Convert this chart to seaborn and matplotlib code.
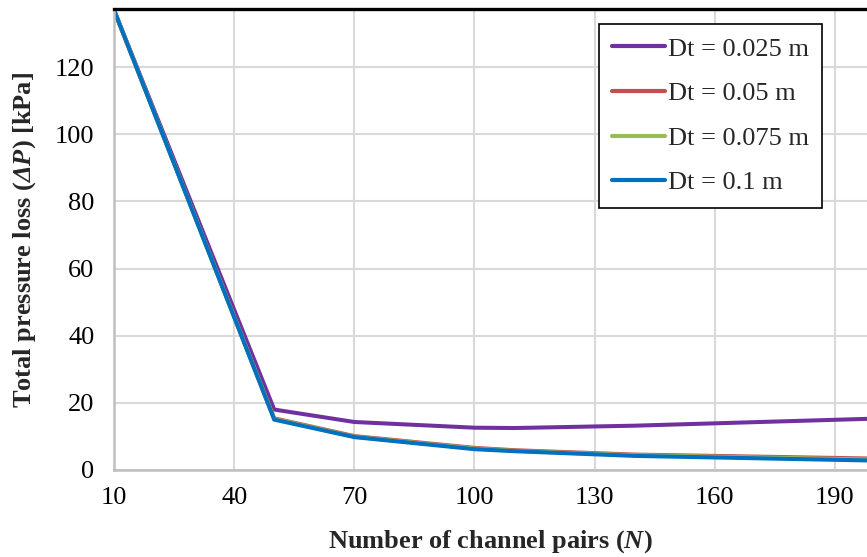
import matplotlib
matplotlib.use("Agg")
import matplotlib.pyplot as plt
import seaborn as sns
import pandas as pd

# Number of channel pairs and total pressure loss (kPa) per tube diameter
n_pairs = [10, 50, 70, 100, 110, 140, 200]
dp_0025 = [137.0, 18.0, 14.3, 12.6, 12.5, 13.2, 15.3]
dp_005 = [137.0, 15.4, 10.1, 6.6, 5.9, 4.6, 3.4]
dp_0075 = [137.0, 15.2, 9.9, 6.4, 5.7, 4.4, 3.1]
dp_01 = [137.0, 15.0, 9.8, 6.2, 5.6, 4.2, 2.8]

series_labels = ["Dt = 0.025 m", "Dt = 0.05 m", "Dt = 0.075 m", "Dt = 0.1 m"]
series_colors = ["#7030A0", "#C0504D", "#9BBB59", "#0070C0"]
x_ticks = [10, 40, 70, 100, 130, 160, 190]
y_ticks = [0, 20, 40, 60, 80, 100, 120]

frames = []
for lab, vals in zip(series_labels, [dp_0025, dp_005, dp_0075, dp_01]):
    frames.append(pd.DataFrame({"N": n_pairs, "dP": vals, "Dt": lab}))
df = pd.concat(frames, ignore_index=True)

sns.set_style("white")
plt.rcParams["font.family"] = ["Liberation Serif", "DejaVu Serif"]
plt.rcParams["mathtext.fontset"] = "custom"
plt.rcParams["mathtext.rm"] = "Liberation Serif"
plt.rcParams["mathtext.bf"] = "Liberation Serif:bold"
plt.rcParams["mathtext.bfit"] = "Liberation Serif:bold:italic"
plt.rcParams["mathtext.it"] = "Liberation Serif:italic"

FS = 19

fig = plt.figure(figsize=(8.67, 5.57), dpi=100)
ax_l, ax_b, ax_w, ax_h = 114, 470, 867 - 114, 470 - 9
ax = fig.add_axes([ax_l / 867, 1 - ax_b / 557, ax_w / 867, ax_h / 557])

sns.lineplot(data=df, x="N", y="dP", hue="Dt", hue_order=series_labels,
             palette=series_colors, linewidth=2.9, ax=ax, legend=True)

ax.set_xlim(10, 198)
ax.set_ylim(0, 137.3)
ax.set_xticks(x_ticks)
ax.set_yticks(y_ticks)
ax.grid(True, color="#D9D9D9", linewidth=1.5)
ax.set_axisbelow(True)
ax.tick_params(axis="both", length=0, labelsize=FS, colors="black")
ax.tick_params(axis="x", pad=12)
ax.tick_params(axis="y", pad=14)

for side in ["left", "bottom"]:
    ax.spines[side].set_color("#BFBFBF")
    ax.spines[side].set_linewidth(1.8)
ax.spines["right"].set_visible(False)
ax.spines["top"].set_color("black")
ax.spines["top"].set_linewidth(2.4)

ax.set_xlabel(r"Number of channel pairs ($\mathbfit{N}$)", fontsize=FS,
              fontweight="bold", labelpad=14)
ax.set_ylabel(r"Total pressure loss ($\mathbfit{ΔP}$) [kPa]", fontsize=FS,
              fontweight="bold", labelpad=12)

leg = ax.legend(loc="upper right",
                bbox_to_anchor=((822 - ax_l) / ax_w, 1 - (24 - 9) / ax_h),
                bbox_transform=ax.transAxes, borderaxespad=0, fontsize=FS,
                frameon=True, fancybox=False, edgecolor="black", framealpha=1,
                handlelength=2.0, handletextpad=0.1, labelspacing=0.8,
                borderpad=0.5, title=None)
leg.get_frame().set_linewidth(1.2)
for h in leg.get_lines():
    h.set_linewidth(3.0)
    h.set_solid_capstyle("round")

fig.savefig("out.png", dpi=100)
